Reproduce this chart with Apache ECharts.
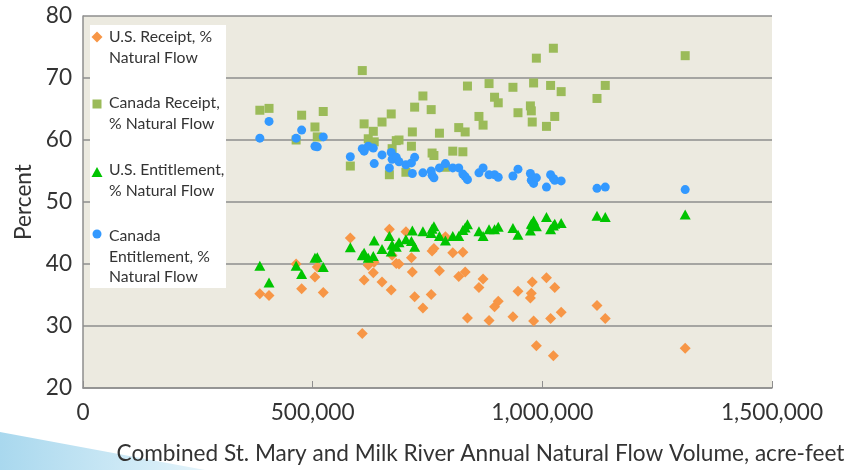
<!DOCTYPE html>
<html><head><meta charset="utf-8">
<script src="https://cdn.jsdelivr.net/npm/echarts@6/dist/echarts.min.js"></script>
<style>html,body{margin:0;padding:0;background:#fff}#c{width:850px;height:470px}</style>
</head><body><div id="c"></div>
<script>
// ---- data ----
const flowVolume = [385000,405000,464000,476000,505000,510000,523000,582000,608000,612000,
  621000,632000,634000,651000,667000,671000,673000,682000,688000,703000,
  715000,717000,722000,740000,758000,760000,764000,776000,789000,805000,
  818000,827000,832000,837000,862000,871000,884000,896000,904000,936000,
  947000,974000,976000,978000,981000,987000,1009000,1018000,1024000,1027000,
  1041000,1119000,1137000,1311000];
const usReceipt = [35.2,34.9,40.0,36.0,37.9,39.5,35.4,44.2,28.8,37.4,
  39.8,38.6,40.3,37.1,45.6,35.8,41.4,40.1,40.0,45.2,
  41.0,38.7,34.7,32.9,35.1,42.1,42.5,38.9,44.4,41.8,
  38.0,41.9,38.7,31.3,36.2,37.6,30.9,33.1,34.0,31.5,
  35.6,34.5,35.3,37.1,30.8,26.8,37.8,31.2,25.2,36.2,
  32.2,33.3,31.2,26.4];
const canadaReceipt = [64.8,65.1,60.0,64.0,62.1,60.5,64.6,55.8,71.2,62.6,
  60.2,61.4,59.7,62.9,54.4,64.2,58.6,59.9,60.0,54.8,
  59.0,61.3,65.3,67.1,64.9,57.9,57.5,61.1,55.6,58.2,
  62.0,58.1,61.3,68.7,63.8,62.4,69.1,66.9,66.0,68.5,
  64.4,65.5,64.7,62.9,69.2,73.2,62.2,68.8,74.8,63.8,
  67.8,66.7,68.8,73.6];
const usEntitlement = [39.7,37.0,39.7,38.4,41.0,41.1,39.5,42.7,41.4,41.8,
  41.0,41.3,43.8,42.4,44.5,42.0,43.1,42.8,43.5,44.0,
  43.7,45.4,42.8,45.3,45.0,45.7,46.1,44.5,43.8,44.5,
  44.5,45.5,45.9,46.4,45.3,44.5,45.6,45.6,46.0,45.8,
  44.7,45.4,46.5,46.4,47.0,46.1,47.6,45.6,46.2,46.5,
  46.6,47.8,47.6,48.0];
const canadaEntitlement = [60.3,63.0,60.3,61.6,59.0,58.9,60.5,57.3,58.6,58.2,
  59.0,58.7,56.2,57.6,55.5,58.0,56.9,57.2,56.5,56.0,
  56.3,54.6,57.2,54.7,55.0,54.3,53.9,55.5,56.2,55.5,
  55.5,54.5,54.1,53.6,54.7,55.5,54.4,54.4,54.0,54.2,
  55.3,54.6,53.5,53.6,53.0,53.9,52.4,54.4,53.8,53.5,
  53.4,52.2,52.4,52.0];
const seriesNames = ['U.S. Receipt, % Natural Flow','Canada Receipt, % Natural Flow',
  'U.S. Entitlement, % Natural Flow','Canada Entitlement, % Natural Flow'];
const legendLines = [['U.S. Receipt, %','Natural Flow'],['Canada Receipt,','% Natural Flow'],
  ['U.S. Entitlement,','% Natural Flow'],['Canada','Entitlement, %','Natural Flow']];
const xTicks = [0,500000,1000000,1500000];
const yTicks = [20,30,40,50,60,70,80];
const xTitle = 'Combined St. Mary and Milk River Annual Natural Flow Volume, acre-feet';
const yTitle = 'Percent';

// ---- style ----
const FAM = 'Lato, "Open Sans", sans-serif';
const TXT = '#333333';
const GRID = '#8E8E8E';
const colors = ['#F79646','#9BBB59','#00C400','#3399FF'];
function fit(text, w){
  const c = document.createElement('canvas').getContext('2d');
  c.font = '100px ' + FAM;
  return 100 * w / c.measureText(text).width;
}
const axisSize = fit(xTitle, 728);
const legSize = fit('U.S. Receipt, %', 103);

function pairs(ys){ return flowVolume.map((x,i)=>[x, ys[i]]); }

const chart = echarts.init(document.getElementById('c'));
const legendGraphics = [
  {type:'rect', shape:{x:90,y:25,width:136,height:263}, style:{fill:'#FFFFFF'}, z:50}
];
const lineY0 = [37,103,170,236];
legendGraphics.push({type:'polygon', shape:{points:[[97,31.5],[102.5,37],[97,42.5],[91.5,37]]}, style:{fill:colors[0]}, z:51});
legendGraphics.push({type:'rect', shape:{x:92.5,y:99.5,width:9,height:9}, style:{fill:colors[1]}, z:51});
legendGraphics.push({type:'polygon', shape:{points:[[97,167],[102.5,177],[91.5,177]]}, style:{fill:colors[2]}, z:51});
legendGraphics.push({type:'circle', shape:{cx:97,cy:234,r:4.5}, style:{fill:colors[3]}, z:51});
legendLines.forEach((lines,i)=>{
  lines.forEach((t,j)=>{
    legendGraphics.push({type:'text', x:109, y:lineY0[i]+j*20.7,
      style:{text:t, fill:TXT, font: legSize.toFixed(2)+'px '+FAM, verticalAlign:'middle', align:'left'}, z:52});
  });
});

const option = {
  animation:false,
  backgroundColor:'#FFFFFF',
  grid:{left:83,right:78,top:16,bottom:79,show:true,backgroundColor:'#ECEAE0',borderWidth:0},
  xAxis:{type:'value',min:xTicks[0],max:xTicks[xTicks.length-1],interval:xTicks[1]-xTicks[0],
    axisLine:{show:true,onZero:false,lineStyle:{color:GRID,width:1.5}},
    axisTick:{show:true,inside:true,length:7,lineStyle:{color:GRID,width:1}},
    splitLine:{show:false},
    axisLabel:{margin:13,fontFamily:FAM,fontSize:axisSize,color:TXT,
      formatter:v=>v.toLocaleString('en-US')},
    name:xTitle,nameLocation:'middle',nameGap:54,
    nameTextStyle:{fontFamily:FAM,fontSize:axisSize,color:TXT,padding:[0,0,0,106]}},
  yAxis:{type:'value',min:yTicks[0],max:yTicks[yTicks.length-1],interval:yTicks[1]-yTicks[0],
    axisLine:{show:true,lineStyle:{color:GRID,width:1.5}},
    axisTick:{show:false},
    splitLine:{show:true,lineStyle:{color:GRID,width:1.5}},
    axisLabel:{margin:11,fontFamily:FAM,fontSize:axisSize,color:TXT},
    name:yTitle,nameLocation:'middle',nameGap:46,nameRotate:90,
    nameTextStyle:{fontFamily:FAM,fontSize:axisSize,color:TXT}},
  series:[
    {name:seriesNames[0],type:'scatter',symbol:'diamond',symbolSize:11,itemStyle:{color:colors[0],opacity:1},data:pairs(usReceipt)},
    {name:seriesNames[1],type:'scatter',symbol:'rect',symbolSize:9,itemStyle:{color:colors[1],opacity:1},data:pairs(canadaReceipt)},
    {name:seriesNames[2],type:'scatter',symbol:'triangle',symbolSize:[11,10],itemStyle:{color:colors[2],opacity:1},data:pairs(usEntitlement)},
    {name:seriesNames[3],type:'scatter',symbol:'circle',symbolSize:9,itemStyle:{color:colors[3],opacity:1},data:pairs(canadaEntitlement)}
  ],
  graphic:[
    {type:'polygon', shape:{points:[[0,432],[0,470],[205,470]]}, z:-1,
      style:{fill:new echarts.graphic.LinearGradient(0,0,1,0,[{offset:0,color:'#A9D8EE'},{offset:1,color:'#E3F3FA'}])}},
    ...legendGraphics
  ]
};
chart.setOption(option);
</script></body></html>
